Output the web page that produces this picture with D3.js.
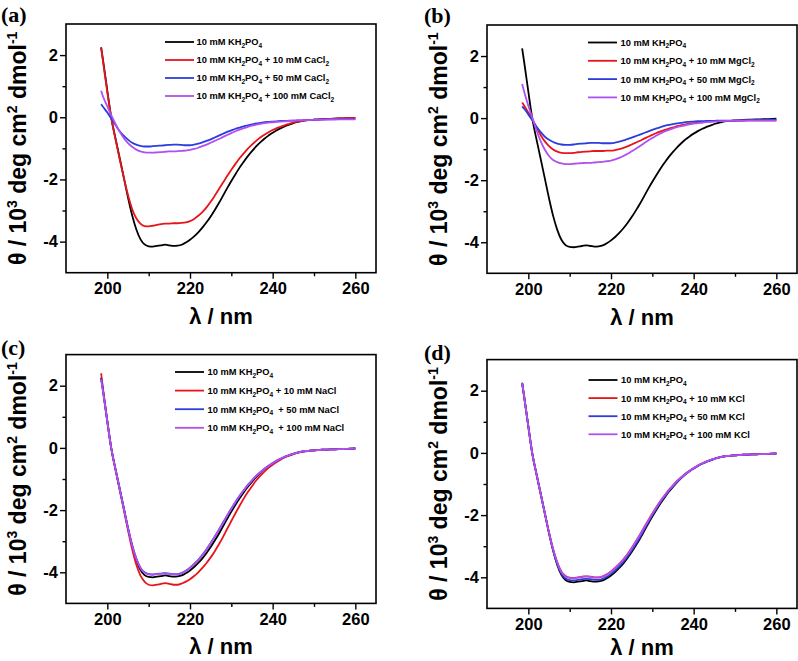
<!DOCTYPE html>
<html><head><meta charset="utf-8">
<script src="https://cdn.jsdelivr.net/npm/d3@7"></script>
<style>body{margin:0;background:#fff}svg{display:block}</style>
</head><body>
<svg id="chart" width="798" height="661"></svg>
<script>
// ---------- DATA ----------
const wl = [198.5,199,200,201,202,203,204,205,206,207,
  208,209,210,211,212,213,214,215,216,217,
  218,219,220,221,222,223,224,225,226,227,
  228,229,230,231,232,233,234,235,236,237,
  238,239,240,241,242,243,244,245,246,247,
  248,249,250,252,254,256,258,260];

const kh2po4 = [2.25,1.8,0.85,-0.05,-0.7,-1.32,-1.95,-2.58,-3.15,-3.6,
  -3.92,-4.09,-4.15,-4.16,-4.14,-4.12,-4.1,-4.12,-4.14,-4.13,
  -4.1,-4.03,-3.94,-3.83,-3.7,-3.55,-3.38,-3.19,-2.98,-2.76,
  -2.52,-2.28,-2.05,-1.83,-1.62,-1.43,-1.25,-1.09,-0.94,-0.81,
  -0.69,-0.59,-0.5,-0.42,-0.35,-0.29,-0.24,-0.19,-0.15,-0.12,
  -0.1,-0.09,-0.08,-0.06,-0.05,-0.04,-0.03,-0.02];

const caCl2_10 = [2.25,1.75,0.8,-0.05,-0.72,-1.35,-1.95,-2.5,-2.95,-3.25,
  -3.42,-3.5,-3.51,-3.49,-3.46,-3.44,-3.42,-3.42,-3.41,-3.41,
  -3.4,-3.38,-3.34,-3.27,-3.17,-3.05,-2.9,-2.72,-2.52,-2.31,
  -2.1,-1.89,-1.69,-1.5,-1.32,-1.16,-1.01,-0.88,-0.76,-0.65,
  -0.56,-0.48,-0.41,-0.35,-0.3,-0.25,-0.21,-0.17,-0.14,-0.12,
  -0.1,-0.09,-0.08,-0.06,-0.05,-0.04,-0.03,-0.02];
const caCl2_50 = [0.42,0.33,0.15,-0.05,-0.25,-0.45,-0.6,-0.72,-0.82,-0.88,
  -0.92,-0.94,-0.94,-0.93,-0.92,-0.91,-0.9,-0.89,-0.88,-0.88,
  -0.89,-0.9,-0.9,-0.88,-0.85,-0.81,-0.76,-0.71,-0.65,-0.59,
  -0.53,-0.47,-0.42,-0.37,-0.33,-0.29,-0.26,-0.23,-0.2,-0.18,
  -0.16,-0.15,-0.14,-0.13,-0.12,-0.12,-0.11,-0.11,-0.1,-0.1,
  -0.09,-0.09,-0.08,-0.07,-0.07,-0.06,-0.06,-0.06];
const caCl2_100 = [0.85,0.65,0.35,0.05,-0.22,-0.47,-0.67,-0.83,-0.95,-1.04,
  -1.1,-1.13,-1.14,-1.14,-1.13,-1.12,-1.11,-1.1,-1.1,-1.09,
  -1.08,-1.07,-1.05,-1.02,-0.98,-0.93,-0.88,-0.82,-0.76,-0.7,
  -0.63,-0.57,-0.51,-0.45,-0.4,-0.35,-0.31,-0.27,-0.24,-0.21,
  -0.19,-0.17,-0.16,-0.15,-0.14,-0.13,-0.12,-0.11,-0.1,-0.1,
  -0.09,-0.09,-0.08,-0.08,-0.07,-0.07,-0.07,-0.07];

const mgCl2_10 = [0.5,0.4,0.18,-0.05,-0.3,-0.55,-0.75,-0.9,-1.01,-1.08,
  -1.12,-1.13,-1.13,-1.12,-1.1,-1.09,-1.08,-1.07,-1.06,-1.06,
  -1.06,-1.05,-1.05,-1.03,-1.0,-0.96,-0.91,-0.85,-0.79,-0.73,
  -0.66,-0.6,-0.54,-0.48,-0.43,-0.38,-0.34,-0.3,-0.26,-0.23,
  -0.2,-0.18,-0.16,-0.14,-0.13,-0.12,-0.11,-0.1,-0.1,-0.09,
  -0.09,-0.09,-0.08,-0.08,-0.07,-0.07,-0.07,-0.07];
const mgCl2_50 = [0.38,0.3,0.12,-0.08,-0.28,-0.45,-0.6,-0.7,-0.77,-0.82,
  -0.85,-0.86,-0.86,-0.85,-0.83,-0.82,-0.81,-0.8,-0.8,-0.8,
  -0.81,-0.81,-0.81,-0.79,-0.76,-0.72,-0.68,-0.63,-0.58,-0.53,
  -0.48,-0.43,-0.38,-0.33,-0.29,-0.25,-0.22,-0.19,-0.17,-0.15,
  -0.13,-0.12,-0.11,-0.1,-0.1,-0.09,-0.09,-0.09,-0.08,-0.08,
  -0.08,-0.08,-0.07,-0.07,-0.06,-0.06,-0.05,-0.05];
const mgCl2_100 = [1.1,0.85,0.4,0.0,-0.4,-0.75,-1.02,-1.22,-1.35,-1.42,
  -1.46,-1.48,-1.48,-1.47,-1.46,-1.45,-1.44,-1.44,-1.43,-1.42,
  -1.41,-1.39,-1.37,-1.33,-1.28,-1.22,-1.15,-1.07,-0.99,-0.9,
  -0.81,-0.72,-0.64,-0.56,-0.49,-0.43,-0.38,-0.33,-0.29,-0.26,
  -0.23,-0.2,-0.18,-0.16,-0.15,-0.13,-0.12,-0.11,-0.1,-0.1,
  -0.09,-0.09,-0.09,-0.08,-0.08,-0.08,-0.08,-0.08];

const naCl_10 = [2.4,1.85,0.85,-0.05,-0.72,-1.36,-2.0,-2.65,-3.25,-3.75,
  -4.1,-4.3,-4.4,-4.42,-4.4,-4.37,-4.35,-4.37,-4.4,-4.4,
  -4.36,-4.3,-4.22,-4.12,-4.0,-3.86,-3.7,-3.52,-3.32,-3.1,
  -2.86,-2.6,-2.35,-2.1,-1.86,-1.63,-1.42,-1.23,-1.05,-0.9,
  -0.76,-0.64,-0.54,-0.45,-0.37,-0.3,-0.25,-0.2,-0.16,-0.13,
  -0.11,-0.09,-0.08,-0.06,-0.05,-0.04,-0.03,-0.02];
const naCl_50 = [2.25,1.8,0.85,-0.05,-0.7,-1.32,-1.95,-2.57,-3.12,-3.55,
  -3.85,-4.0,-4.06,-4.07,-4.05,-4.04,-4.03,-4.04,-4.06,-4.06,
  -4.02,-3.95,-3.85,-3.73,-3.6,-3.44,-3.26,-3.06,-2.85,-2.63,
  -2.4,-2.17,-1.95,-1.74,-1.54,-1.36,-1.19,-1.04,-0.9,-0.78,
  -0.67,-0.57,-0.49,-0.41,-0.34,-0.28,-0.23,-0.19,-0.15,-0.12,
  -0.1,-0.09,-0.08,-0.06,-0.05,-0.04,-0.03,-0.02];
const naCl_100 = [2.2,1.78,0.84,-0.05,-0.7,-1.33,-1.96,-2.58,-3.13,-3.56,
  -3.86,-4.01,-4.07,-4.08,-4.06,-4.05,-4.04,-4.05,-4.07,-4.07,
  -4.03,-3.96,-3.86,-3.74,-3.61,-3.45,-3.27,-3.07,-2.86,-2.64,
  -2.41,-2.18,-1.96,-1.75,-1.55,-1.37,-1.2,-1.05,-0.91,-0.79,
  -0.68,-0.58,-0.49,-0.41,-0.34,-0.28,-0.23,-0.19,-0.15,-0.12,
  -0.1,-0.09,-0.08,-0.06,-0.05,-0.04,-0.03,-0.02];

const kCl_10 = [2.25,1.8,0.85,-0.05,-0.7,-1.32,-1.95,-2.56,-3.1,-3.52,
  -3.82,-3.96,-4.01,-4.02,-4.0,-3.98,-3.97,-3.98,-4.0,-4.0,
  -3.97,-3.9,-3.81,-3.7,-3.57,-3.42,-3.25,-3.06,-2.85,-2.63,
  -2.4,-2.17,-1.95,-1.74,-1.54,-1.36,-1.19,-1.04,-0.9,-0.78,
  -0.67,-0.57,-0.49,-0.41,-0.34,-0.28,-0.23,-0.19,-0.15,-0.12,
  -0.1,-0.09,-0.08,-0.06,-0.05,-0.04,-0.03,-0.02];
const kCl_50 = [2.25,1.8,0.85,-0.05,-0.7,-1.32,-1.95,-2.57,-3.13,-3.57,
  -3.88,-4.04,-4.09,-4.1,-4.08,-4.06,-4.05,-4.06,-4.08,-4.08,
  -4.05,-3.98,-3.89,-3.78,-3.65,-3.5,-3.33,-3.14,-2.93,-2.71,
  -2.47,-2.23,-2.0,-1.79,-1.58,-1.4,-1.22,-1.07,-0.92,-0.8,
  -0.68,-0.58,-0.5,-0.42,-0.35,-0.29,-0.24,-0.19,-0.15,-0.12,
  -0.1,-0.09,-0.08,-0.06,-0.05,-0.04,-0.03,-0.02];
const kCl_100 = [2.25,1.8,0.85,-0.05,-0.7,-1.32,-1.95,-2.56,-3.1,-3.53,
  -3.83,-3.97,-4.02,-4.03,-4.01,-3.99,-3.97,-3.99,-4.01,-4.01,
  -3.98,-3.91,-3.82,-3.71,-3.58,-3.43,-3.26,-3.07,-2.86,-2.64,
  -2.41,-2.18,-1.96,-1.75,-1.55,-1.37,-1.2,-1.05,-0.91,-0.79,
  -0.68,-0.58,-0.49,-0.41,-0.34,-0.28,-0.23,-0.19,-0.15,-0.12,
  -0.1,-0.09,-0.08,-0.06,-0.05,-0.04,-0.03,-0.02];

const xTicks = [200, 220, 240, 260];
const xMinor = [210, 230, 250];
const yTicks = [-4, -2, 0, 2];
const yMinor = [-3, -1, 1];
const concentrations = ["10", "50", "100"];
const panelLetters = ["(a)", "(b)", "(c)", "(d)"];
const saltNames = ["CaCl", "MgCl", "NaCl", "KCl"];
const saltSub = ["2", "2", "", ""];
const seriesColors = ["#000000", "#e8141c", "#2b3ddc", "#b14ff0"];

// ---------- LAYOUT ----------
const panels = [
  {x0:66, x1:376, y0:24, y1:272.7, series:[kh2po4, caCl2_10, caCl2_50, caCl2_100],
   leg:{lx:165, tx:196.5, y:42, dy:18}, lab:{x:1, y:22}, gap:" ", xl:324},
  {x0:487, x1:797, y0:25, y1:273.3, series:[kh2po4, mgCl2_10, mgCl2_50, mgCl2_100],
   leg:{lx:588, tx:620.5, y:42.5, dy:18.3}, lab:{x:424, y:23}, gap:" ", xl:325},
  {x0:66, x1:376, y0:354.6, y1:603.4, series:[kh2po4, naCl_10, naCl_50, naCl_100],
   leg:{lx:175, tx:207.5, y:372, dy:18.6}, lab:{x:1, y:355}, gap:"  ", xl:654},
  {x0:487, x1:797, y0:359.6, y1:608.4, series:[kh2po4, kCl_10, kCl_50, kCl_100],
   leg:{lx:588.5, tx:621, y:380, dy:18.1}, lab:{x:424, y:360}, gap:" ", xl:655}
];

const svg = d3.select("#chart");
const SANS = "'Liberation Sans', Arial, sans-serif";

panels.forEach((p, pi) => {
  const x = d3.scaleLinear().domain([190, 265]).range([p.x0, p.x1]);
  const y = d3.scaleLinear().domain([-5, 3]).range([p.y1, p.y0]);
  const g = svg.append("g");

  // curves
  const line = d3.line().x((d, i) => x(wl[i])).y(d => y(d)).curve(d3.curveMonotoneX);
  p.series.forEach((s, si) => {
    g.append("path").attr("d", line(s)).attr("fill", "none")
      .attr("stroke", seriesColors[si]).attr("stroke-width", 1.8)
      .attr("stroke-linejoin", "round");
  });

  // axes
  const ax = g.append("g").attr("transform", `translate(0,${p.y1})`)
    .call(d3.axisBottom(x).tickValues(xTicks).tickSize(6).tickSizeOuter(0).tickPadding(4).tickFormat(d => String(d)));
  const axm = g.append("g").attr("transform", `translate(0,${p.y1})`)
    .call(d3.axisBottom(x).tickValues(xMinor).tickSize(3.5).tickSizeOuter(0).tickFormat(""));
  const ay = g.append("g").attr("transform", `translate(${p.x0},0)`)
    .call(d3.axisLeft(y).tickValues(yTicks).tickSize(6).tickSizeOuter(0).tickPadding(2).tickFormat(d => String(d)));
  const aym = g.append("g").attr("transform", `translate(${p.x0},0)`)
    .call(d3.axisLeft(y).tickValues(yMinor).tickSize(3.5).tickSizeOuter(0).tickFormat(""));
  [ax, axm, ay, aym].forEach(a => {
    a.select(".domain").remove();
    a.selectAll("line").attr("stroke", "#000").attr("stroke-width", 1.4);
    a.selectAll("text").attr("fill", "#000").style("font-family", SANS)
      .style("font-size", "16.5px").style("font-weight", "bold");
  });

  // frame
  g.append("rect").attr("x", p.x0).attr("y", p.y0)
    .attr("width", p.x1 - p.x0).attr("height", p.y1 - p.y0)
    .attr("fill", "none").attr("stroke", "#000").attr("stroke-width", 1.6);

  // x label
  g.append("text").attr("x", (p.x0 + p.x1) / 2).attr("y", p.xl)
    .attr("text-anchor", "middle").style("font-family", SANS)
    .style("font-size", "22px").style("font-weight", "bold").text("λ / nm");

  // y label
  const yl = g.append("text")
    .attr("transform", `translate(${p.x0 - 40},${(p.y0 + p.y1) / 2}) rotate(-90)`)
    .attr("text-anchor", "middle").style("font-family", SANS)
    .style("font-size", "23px").style("font-weight", "bold");
  yl.append("tspan").text("θ / 10");
  yl.append("tspan").attr("dy", -9).style("font-size", "14px").text("3");
  yl.append("tspan").attr("dy", 9).text(" deg cm");
  yl.append("tspan").attr("dy", -9).style("font-size", "14px").text("2");
  yl.append("tspan").attr("dy", 9).text(" dmol");
  yl.append("tspan").attr("dy", -9).style("font-size", "14px").text("-1");

  // panel letter
  svg.append("text").attr("x", p.lab.x).attr("y", p.lab.y)
    .style("font-family", "'Liberation Serif', 'Times New Roman', serif")
    .style("font-size", "22px").style("font-weight", "bold").text(panelLetters[pi]);

  // legend
  for (let k = 0; k < 4; k++) {
    const ly = p.leg.y + k * p.leg.dy;
    g.append("line").attr("x1", p.leg.lx).attr("x2", p.leg.lx + 29)
      .attr("y1", ly).attr("y2", ly).attr("stroke", seriesColors[k]).attr("stroke-width", 1.8);
    const t = g.append("text").attr("x", p.leg.tx).attr("y", ly + 3.4)
      .attr("xml:space", "preserve").style("white-space", "pre")
      .style("font-family", SANS).style("font-size", "9.3px").style("font-weight", "bold");
    t.append("tspan").text("10 mM KH");
    t.append("tspan").attr("dy", 2.5).style("font-size", "6.5px").text("2");
    t.append("tspan").attr("dy", -2.5).text("PO");
    t.append("tspan").attr("dy", 2.5).style("font-size", "6.5px").text("4");
    if (k > 0) {
      const gap = k === 1 ? " " : p.gap;
      t.append("tspan").attr("dy", -2.5).text(gap + "+ " + concentrations[k - 1] + " mM " + saltNames[pi]);
      if (saltSub[pi]) t.append("tspan").attr("dy", 2.5).style("font-size", "6.5px").text(saltSub[pi]);
    }
  }
});
</script>
</body></html>
